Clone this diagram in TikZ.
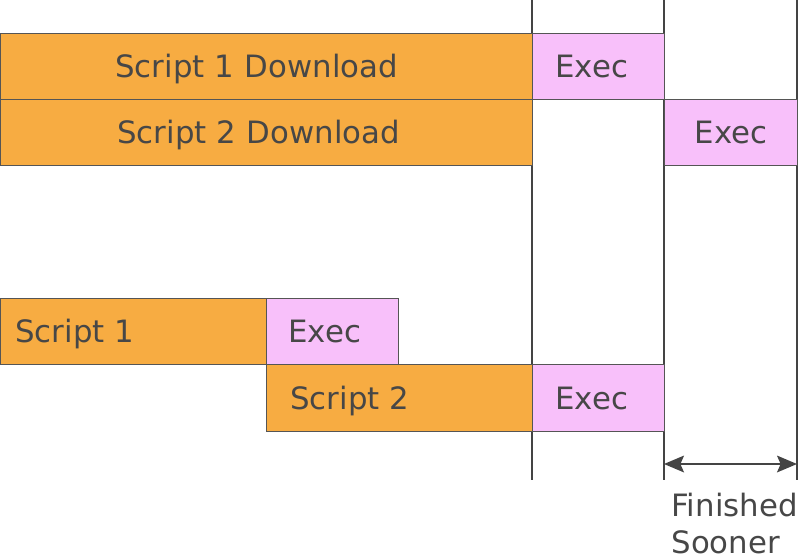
\documentclass[tikz,border=0pt]{standalone}
\usepackage{fontspec}
\setmainfont{DejaVu Sans}
\usetikzlibrary{arrows.meta}
\definecolor{dlorange}{HTML}{F7AC42}
\definecolor{expink}{HTML}{F8C0FA}
\definecolor{txtgray}{HTML}{474747}
\definecolor{edgegray}{HTML}{555555}
\definecolor{linegray}{HTML}{444444}
\begin{document}
\begin{tikzpicture}[
    >={Stealth[length=5mm,width=4.2mm,inset=0.9mm]},
    bar/.style={draw=edgegray, line width=0.6pt, minimum height=1.65cm,
      inner sep=0pt, anchor=north west, align=left, text=txtgray,
      text height=16pt, text depth=0pt,
      font=\fontsize{21.9}{26}\selectfont},
    dlbar/.style={bar, fill=dlorange},
    exbar/.style={bar, fill=expink},
    tick/.style={draw=linegray, line width=1pt}
]
  \useasboundingbox (0,0) rectangle (20,-13.875);

  % time marks
  \coordinate (t1) at (13.3,0);    \coordinate (b1) at (13.3,-12);
  \coordinate (t2) at (16.6,0);    \coordinate (b2) at (16.6,-12);
  \coordinate (t3) at (19.925,0);  \coordinate (b3) at (19.925,-12);
  \draw[tick] (t1) -- (b1);
  \draw[tick] (t2) -- (b2);
  \draw[tick] (t3) -- (b3);

  % upper rows
  \node[dlbar, inner xsep=2.875cm, text width=7.55cm] (dlA) at (0,-0.825) {Script 1 Download};
  \node[exbar, inner xsep=0.575cm, text width=2.15cm] (exA) at (13.3,-0.825) {Exec};
  \node[dlbar, inner xsep=2.925cm, text width=7.45cm] (dlB) at (0,-2.475) {Script 2 Download};
  \node[exbar, align=center, text width=3.325cm] (exB) at (16.6,-2.475) {Exec};

  % lower rows
  \node[dlbar, inner xsep=0.375cm, text width=5.9cm] (scA) at (0,-7.45) {Script 1};
  \node[exbar, inner xsep=0.55cm, text width=2.2cm] (exC) at (6.65,-7.45) {Exec};
  \node[dlbar, inner xsep=0.6cm, text width=5.45cm, minimum height=1.675cm] (scB) at (6.65,-9.1) {Script 2};
  \node[exbar, inner xsep=0.575cm, text width=2.15cm, minimum height=1.675cm] (exD) at (13.3,-9.1) {Exec};

  % gain
  \coordinate (g1) at (16.6,-11.6);
  \coordinate (g2) at (19.925,-11.6);
  \draw[tick, <->] (g1) -- (g2);
  \node[anchor=north west, inner sep=0pt, align=left, text=txtgray,
    font=\fontsize{21.9}{26.5}\selectfont] (gain) at (16.78,-12.32) {Finished\\Sooner};
\end{tikzpicture}
\end{document}
